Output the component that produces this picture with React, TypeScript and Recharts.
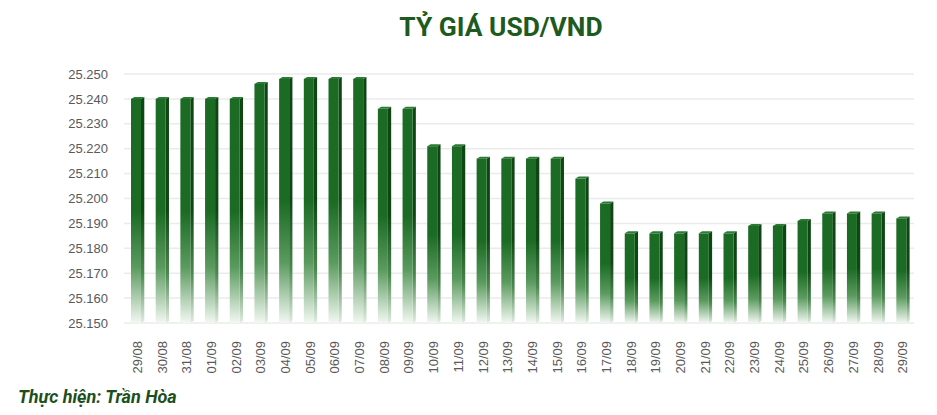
import React from "react";
import { BarChart, Bar, XAxis, YAxis, CartesianGrid } from "recharts";

const categories = [
  "29/08", "30/08", "31/08", "01/09", "02/09", "03/09", "04/09", "05/09",
  "06/09", "07/09", "08/09", "09/09", "10/09", "11/09", "12/09", "13/09",
  "14/09", "15/09", "16/09", "17/09", "18/09", "19/09", "20/09", "21/09",
  "22/09", "23/09", "24/09", "25/09", "26/09", "27/09", "28/09", "29/09",
];

const rates = [
  25240, 25240, 25240, 25240, 25240, 25246, 25248, 25248,
  25248, 25248, 25236, 25236, 25221, 25221, 25216, 25216,
  25216, 25216, 25208, 25198, 25186, 25186, 25186, 25186,
  25186, 25189, 25189, 25191, 25194, 25194, 25194, 25192,
];

const yTicks = [25150, 25160, 25170, 25180, 25190, 25200, 25210, 25220, 25230, 25240, 25250];

const data = categories.map((c, i) => ({ date: c, rate: rates[i] }));

const fmt = (v: number) => {
  const s = String(v);
  return s.slice(0, s.length - 3) + "." + s.slice(s.length - 3);
};

const Bar3D = (props: any) => {
  const { x, y, width, height } = props;
  if (height <= 0) return null;
  const d = 3.3;
  const dy = 2;
  return (
    <g>
      <polygon
        points={`${x + width},${y} ${x + width + d},${y - dy} ${x + width + d},${y + height - dy} ${x + width},${y + height}`}
        fill="url(#sideGrad)"
      />
      <polygon
        points={`${x},${y} ${x + d},${y - dy} ${x + width + d},${y - dy} ${x + width},${y}`}
        fill="#2c7a33"
      />
      <rect x={x} y={y} width={width} height={height} fill="url(#frontGrad)" />
    </g>
  );
};

const XTick = (props: any) => {
  const { x, y, payload } = props;
  return (
    <text
      x={0}
      y={0}
      transform={`translate(${x + 1},${y + 10}) rotate(-90)`}
      textAnchor="end"
      dy="0.35em"
      fill="#595959"
      fontSize={13}
      fontFamily="'Liberation Sans', Arial, sans-serif"
    >
      {payload.value}
    </text>
  );
};

export default function App() {
  return (
    <div
      style={{
        position: "absolute",
        left: 0,
        top: 0,
        width: 937,
        height: 415,
        background: "#ffffff",
        overflow: "hidden",
      }}
    >
      <div
        style={{
          position: "absolute",
          left: 0,
          top: 12,
          width: 1002,
          textAlign: "center",
          fontFamily: "Roboto, 'Liberation Sans', sans-serif",
          fontWeight: 700,
          fontSize: 26.4,
          color: "#1d5a20",
          lineHeight: "30px",
        }}
      >
        TỶ GIÁ USD/VND
      </div>
      <BarChart
        width={937}
        height={415}
        data={data}
        margin={{ top: 74, right: 23, left: 0, bottom: 0 }}
        barCategoryGap={0}
      >
        <defs>
          <linearGradient id="frontGrad" x1="0" y1="0" x2="0" y2="1">
            <stop offset="0" stopColor="#1b6b24" />
            <stop offset="0.5" stopColor="#1b6b24" />
            <stop offset="0.75" stopColor="#5a9a5e" />
            <stop offset="1" stopColor="#f2f8f2" />
          </linearGradient>
          <linearGradient id="sideGrad" x1="0" y1="0" x2="0" y2="1">
            <stop offset="0" stopColor="#0e4714" />
            <stop offset="0.5" stopColor="#0e4714" />
            <stop offset="0.78" stopColor="#4b874f" />
            <stop offset="1" stopColor="#e2eee2" />
          </linearGradient>
        </defs>
        <CartesianGrid vertical={false} stroke="#ebebeb" strokeWidth={1.5} />
        <XAxis
          dataKey="date"
          interval={0}
          height={92}
          axisLine={false}
          tickLine={false}
          tick={<XTick />}
        />
        <YAxis
          domain={[25150, 25250]}
          ticks={yTicks}
          width={124}
          axisLine={false}
          tickLine={false}
          tickSize={0}
          tickMargin={16}
          tickFormatter={fmt}
          tick={{ fill: "#595959", fontSize: 13, fontFamily: "'Liberation Sans', Arial, sans-serif" }}
          allowDataOverflow
        />
        <Bar dataKey="rate" barSize={10} shape={<Bar3D />} isAnimationActive={false} />
      </BarChart>
      <div
        style={{
          position: "absolute",
          left: 18,
          top: 386,
          fontFamily: "Roboto, 'Liberation Sans', sans-serif",
          fontWeight: 700,
          fontStyle: "italic",
          fontSize: 18,
          color: "#1d4f1d",
          whiteSpace: "nowrap",
        }}
      >
        Thực hiện: Trần Hòa
      </div>
    </div>
  );
}
